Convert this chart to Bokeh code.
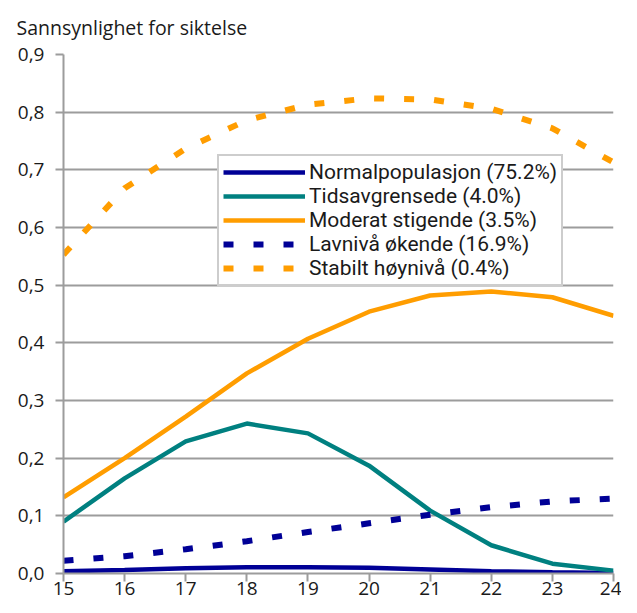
from bokeh.plotting import figure
from bokeh.models import Legend, LegendItem, CustomJSTickFormatter, FixedTicker, Range1d, Title
from bokeh.embed import file_html
from bokeh.resources import INLINE

ages = [15, 16, 17, 18, 19, 20, 21, 22, 23, 24]
normal = [0.004, 0.006, 0.009, 0.011, 0.011, 0.010, 0.007, 0.004, 0.002, 0.001]
tids = [0.090, 0.165, 0.229, 0.260, 0.243, 0.187, 0.109, 0.049, 0.017, 0.005]
moderat = [0.132, 0.200, 0.272, 0.347, 0.407, 0.454, 0.482, 0.489, 0.479, 0.447]
lavniva = [0.022, 0.030, 0.042, 0.056, 0.072, 0.087, 0.102, 0.115, 0.125, 0.130]
stabilt = [0.553, 0.668, 0.737, 0.786, 0.813, 0.824, 0.822, 0.806, 0.772, 0.713]

labels = ["Normalpopulasjon (75.2%)", "Tidsavgrensede (4.0%)", "Moderat stigende (3.5%)",
          "Lavnivå økende (16.9%)", "Stabilt høynivå (0.4%)"]
y_ticks = [0.0, 0.1, 0.2, 0.3, 0.4, 0.5, 0.6, 0.7, 0.8, 0.9]
title_text = "Sannsynlighet for siktelse"

FONT = "Open Sans"
LFONT = "Roboto"
GRAY = "#9c9c9c"
NAVY = "#000096"
TEAL = "#008080"
ORANGE = "#ff9d00"
TXT = "#1a1a1a"

p = figure(width=621, height=597, output_backend="svg", toolbar_location=None,
           x_range=Range1d(15, 24), y_range=Range1d(0, 0.9),
           min_border_left=63, min_border_right=8, min_border_top=54, min_border_bottom=20)
p.outline_line_color = None
p.background_fill_color = "white"

t = Title(text=title_text, text_font=FONT, text_font_size="19.5px", text_font_style="normal",
          text_color=TXT, align="left", offset=-47, standoff=24, vertical_align="top")
p.add_layout(t, "above")

p.xgrid.grid_line_color = None
p.ygrid.grid_line_color = GRAY
p.ygrid.grid_line_width = 2
p.ygrid.ticker = FixedTicker(ticks=y_ticks)

p.yaxis.ticker = FixedTicker(ticks=y_ticks)
p.xaxis.ticker = FixedTicker(ticks=ages)
p.yaxis.formatter = CustomJSTickFormatter(code="return tick.toFixed(1).replace('.', ',');")
for ax in (p.xaxis[0], p.yaxis[0]):
    ax.axis_line_color = GRAY
    ax.axis_line_width = 2
    ax.major_tick_line_color = GRAY
    ax.major_tick_line_width = 2
    ax.major_tick_out = 8
    ax.major_tick_in = 0
    ax.minor_tick_line_color = None
    ax.major_label_text_font = FONT
    ax.major_label_text_font_size = "19px"
    ax.major_label_text_color = TXT
p.yaxis.major_label_standoff = 11
p.xaxis.major_label_standoff = 0

r1 = p.line(ages, normal, line_color=NAVY, line_width=4.5)
r2 = p.line(ages, tids, line_color=TEAL, line_width=4.5)
r3 = p.line(ages, moderat, line_color=ORANGE, line_width=4.5)
r4 = p.line(ages, lavniva, line_color=NAVY, line_width=6, line_dash="10 20")
r5 = p.line(ages, stabilt, line_color=ORANGE, line_width=6, line_dash="10 20")

legend = Legend(items=[LegendItem(label=l, renderers=[r]) for l, r in zip(labels, [r1, r2, r3, r4, r5])],
                location=(154, 287), label_text_font=LFONT, label_text_font_size="21px",
                label_text_color=TXT, border_line_color=GRAY, border_line_width=2,
                padding=4, spacing=0, label_height=24, glyph_height=24, glyph_width=82,
                label_standoff=4, margin=0, background_fill_alpha=1)
p.add_layout(legend)

open("out.html", "w").write(file_html(p, INLINE))
